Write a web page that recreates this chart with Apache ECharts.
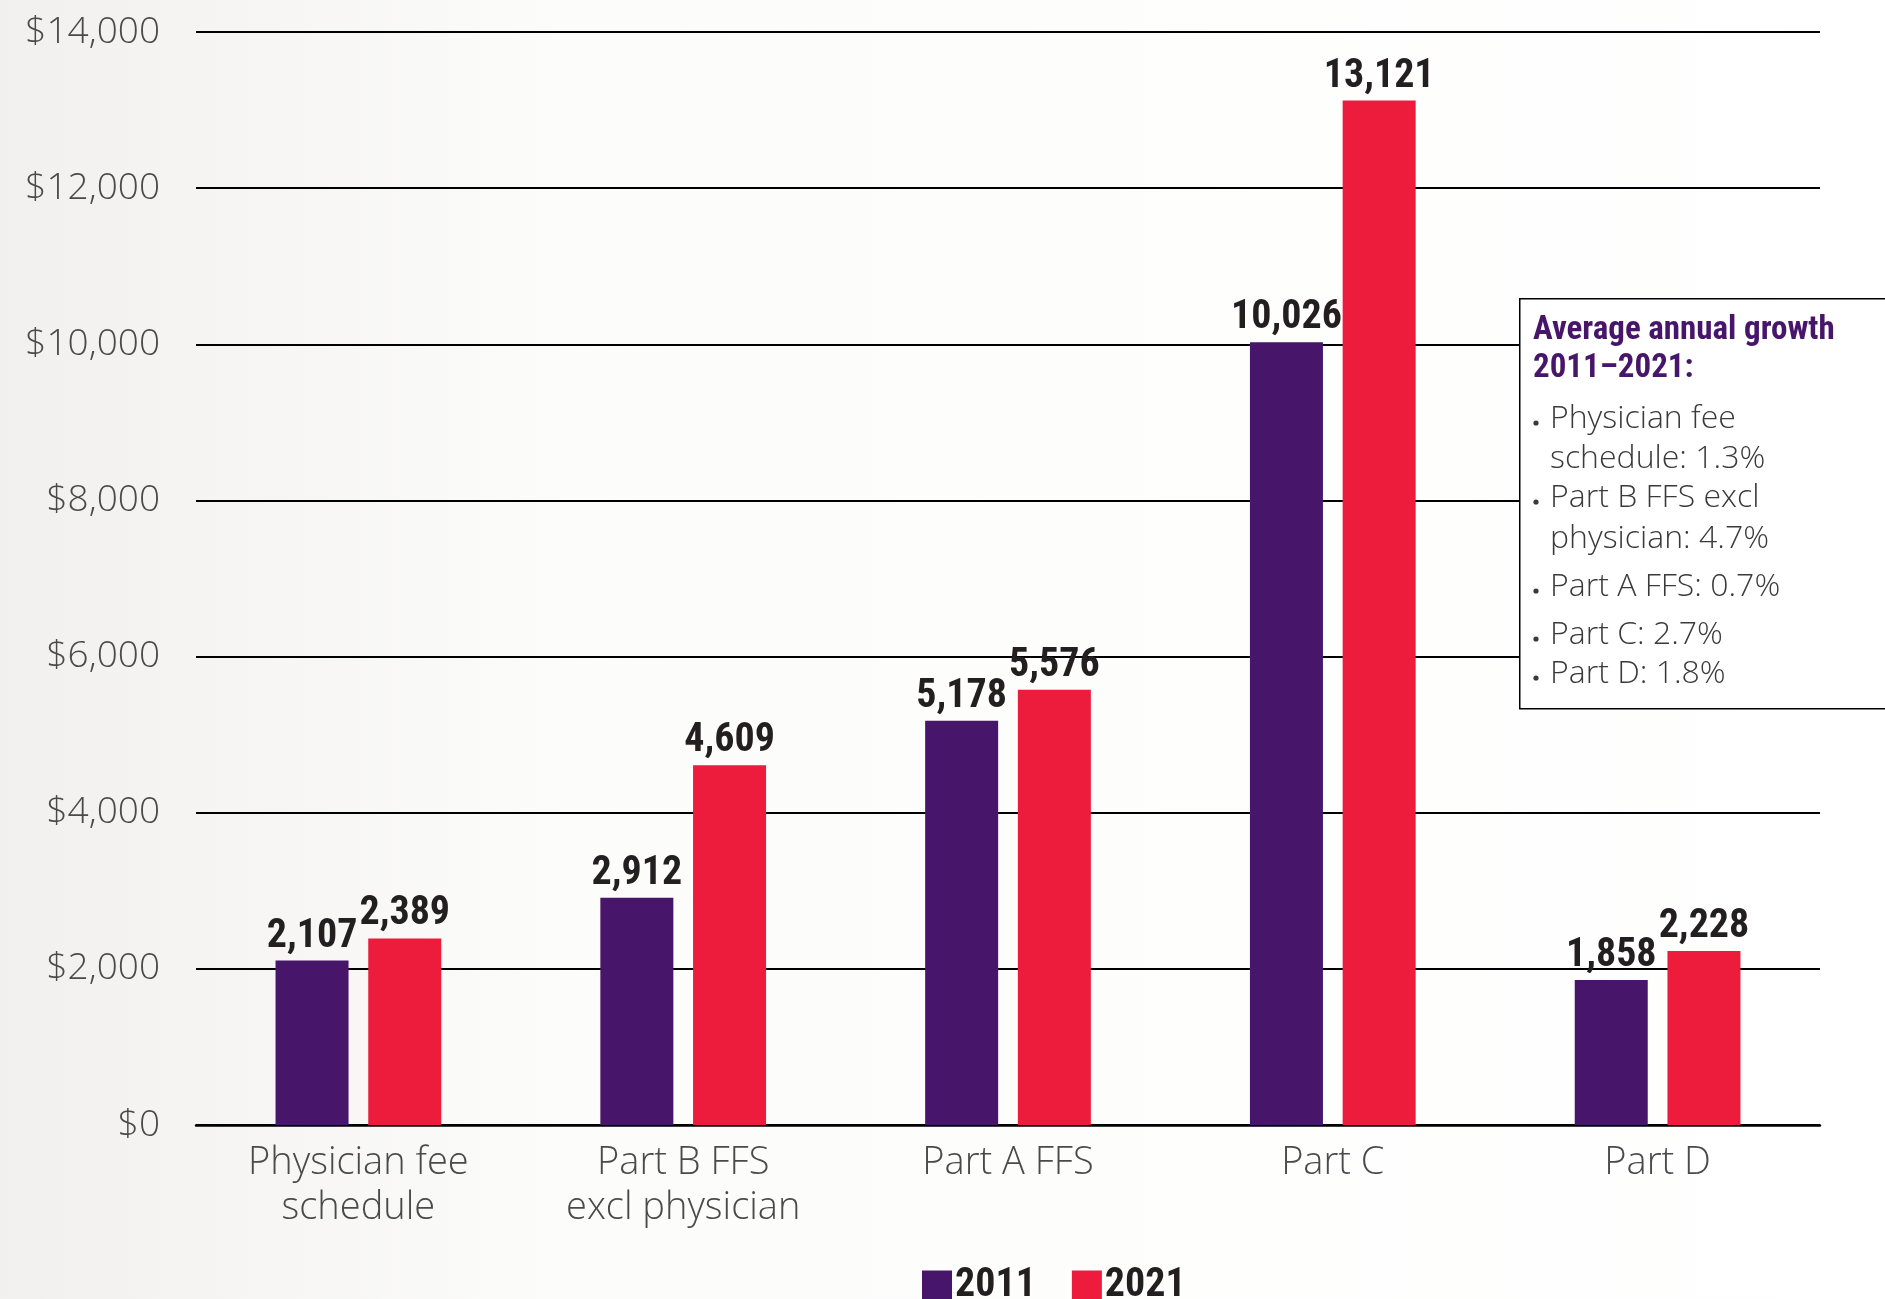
<!DOCTYPE html>
<html>
<head>
<meta charset="utf-8">
<title>Medicare spending per beneficiary, 2011 and 2021</title>
<script src="https://cdn.jsdelivr.net/npm/echarts@6/dist/echarts.min.js"></script>
<style>
  html, body { margin: 0; padding: 0; background: #fff; }
  #chart { width: 1885px; height: 1299px; }
</style>
</head>
<body>
<div id="chart"></div>
<script>
const categories = ['Physician fee\nschedule', 'Part B FFS\nexcl physician', 'Part A FFS', 'Part C', 'Part D']
const years = ['2011', '2021']
const values2011 = [2107, 2912, 5178, 10026, 1858]
const values2021 = [2389, 4609, 5576, 13121, 2228]
const yTicks = [0, 2000, 4000, 6000, 8000, 10000, 12000, 14000]
const growthTitle = ['Average annual growth', '2011\u20132021:']
const growthNotes = [
  ['Physician fee', 'schedule: 1.3%'],
  ['Part B FFS excl', 'physician: 4.7%'],
  ['Part A FFS: 0.7%'],
  ['Part C: 2.7%'],
  ['Part D: 1.8%']
]

const purple = '#47166a'
const red = '#ed1b3c'
const ink = '#231f20'
const light = "'Open Sans', 'Noto Sans', sans-serif"
const narrow = "'Roboto Condensed', 'Liberation Sans Narrow', Roboto, sans-serif"

const chart = echarts.init(document.getElementById('chart'))

// annotation box: frame first, then its lines of text
const boxGraphics = [{
  type: 'rect', left: 1519, top: 298, z: 10,
  shape: { width: 380, height: 410 },
  style: { fill: '#fff', stroke: '#000', lineWidth: 1.5 }
}]
const titleLineY = [314, 352]
growthTitle.forEach((line, i) => {
  boxGraphics.push({
    type: 'text', x: 1533, y: titleLineY[i], z: 11,
    style: { text: line, fill: purple, font: 'bold 33px ' + narrow }
  })
})
const noteLineY = [[403, 443], [482, 523], [571], [619], [658]]
growthNotes.forEach((lines, i) => {
  boxGraphics.push({
    type: 'circle', z: 11,
    shape: { cx: 1536, cy: noteLineY[i][0] + 20, r: 2.6 },
    style: { fill: '#3a3a3a' }
  })
  lines.forEach((line, j) => {
    boxGraphics.push({
      type: 'text', x: 1550, y: noteLineY[i][j], z: 11,
      style: { text: line, fill: '#3a3a3a', font: '300 32px ' + light }
    })
  })
})

const labelStyle = {
  show: true,
  position: 'top',
  distance: 4,
  color: ink,
  fontFamily: narrow,
  fontWeight: 'bold',
  fontSize: 40,
  formatter: p => p.value.toLocaleString('en-US')
}

const option = {
  backgroundColor: new echarts.graphic.LinearGradient(0, 0, 1, 0, [
    { offset: 0, color: '#f1f0ee' },
    { offset: 0.3, color: '#fcfcfb' },
    { offset: 1, color: '#ffffff' }
  ]),
  animation: false,
  grid: { left: 196, right: 65, top: 32, bottom: 174 },
  legend: {
    data: years,
    left: 917,
    top: 1261,
    itemWidth: 30,
    itemHeight: 31,
    itemGap: 36,
    icon: 'rect',
    textStyle: { color: ink, fontFamily: narrow, fontWeight: 'bold', fontSize: 40, padding: [0, 0, 0, -2] }
  },
  xAxis: {
    type: 'category',
    data: categories,
    axisLine: { lineStyle: { color: '#000', width: 2.5 } },
    axisTick: { show: false },
    axisLabel: {
      margin: 16,
      color: '#4a4a4a',
      fontFamily: light,
      fontWeight: 300,
      fontSize: 38,
      lineHeight: 45
    }
  },
  yAxis: {
    type: 'value',
    min: yTicks[0],
    max: yTicks[yTicks.length - 1],
    interval: 2000,
    axisLine: { show: false },
    axisTick: { show: false },
    splitLine: { lineStyle: { color: '#000', width: 2 } },
    axisLabel: {
      margin: 36,
      color: '#4a4a4a',
      fontFamily: light,
      fontWeight: 300,
      fontSize: 37,
      padding: [6, 0, 0, 0],
      formatter: v => '$' + v.toLocaleString('en-US')
    }
  },
  series: [
    {
      name: years[0], type: 'bar', data: values2011,
      barWidth: 73, barGap: '27%',
      itemStyle: { color: purple },
      label: labelStyle
    },
    {
      name: years[1], type: 'bar', data: values2021,
      barWidth: 73,
      itemStyle: { color: red },
      label: labelStyle
    }
  ],
  graphic: boxGraphics
}

chart.setOption(option)
</script>
</body>
</html>
